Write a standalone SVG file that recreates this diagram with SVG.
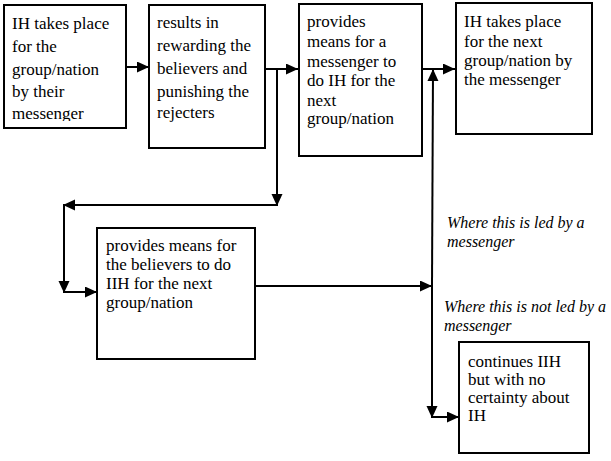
<svg xmlns="http://www.w3.org/2000/svg" width="611" height="461" viewBox="0 0 611 461">
<style>
  .box { fill: #fff; stroke: #000; stroke-width: 2; }
  .t { font-family: 'Liberation Serif', 'Times New Roman', serif; font-size: 17px; fill: #000; }
  .lbl { font-family: 'Liberation Serif', 'Times New Roman', serif; font-size: 16px; font-style: italic; fill: #000; }
  .c { fill: none; stroke: #000; stroke-width: 2; marker-end: url(#arr); }
</style>
<defs>
  <marker id="arr" markerUnits="userSpaceOnUse" markerWidth="13" markerHeight="12" refX="12" refY="5.5" orient="auto">
    <path d="M0,0 L12,5.5 L0,11 z" fill="#000"/>
  </marker>
  <clipPath id="clip1"><rect x="4" y="5" width="122" height="116"/></clipPath>
</defs>
<rect width="611" height="461" fill="#fff"/>

<g id="n1">
  <rect class="box" x="4" y="5" width="122" height="123"/>
  <g clip-path="url(#clip1)">
    <text class="t" x="12" y="29">IH takes place</text>
    <text class="t" x="12" y="52">for the</text>
    <text class="t" x="12" y="75">group/nation</text>
    <text class="t" x="12" y="97">by their</text>
    <text class="t" x="12" y="119">messenger</text>
  </g>
</g>
<g id="n2">
  <rect class="box" x="149" y="5" width="116" height="143"/>
  <text class="t" x="157" y="28">results in</text>
  <text class="t" x="157" y="51">rewarding the</text>
  <text class="t" x="157" y="74">believers and</text>
  <text class="t" x="157" y="97">punishing the</text>
  <text class="t" x="157" y="118">rejecters</text>
</g>
<g id="n3">
  <rect class="box" x="299" y="4" width="123" height="152"/>
  <text class="t" x="307" y="27">provides</text>
  <text class="t" x="307" y="47">means for a</text>
  <text class="t" x="307" y="67">messenger to</text>
  <text class="t" x="307" y="86">do IH for the</text>
  <text class="t" x="307" y="106">next</text>
  <text class="t" x="307" y="124">group/nation</text>
</g>
<g id="n4">
  <rect class="box" x="456" y="3" width="136" height="131"/>
  <text class="t" x="464" y="27">IH takes place</text>
  <text class="t" x="464" y="47">for the next</text>
  <text class="t" x="464" y="66">group/nation by</text>
  <text class="t" x="464" y="85">the messenger</text>
</g>
<g id="n5">
  <rect class="box" x="97" y="228" width="158" height="131"/>
  <text class="t" x="106" y="251">provides means for</text>
  <text class="t" x="106" y="270">the believers to do</text>
  <text class="t" x="106" y="289">IIH for the next</text>
  <text class="t" x="106" y="308">group/nation</text>
</g>
<g id="n6">
  <rect class="box" x="459" y="342" width="130" height="111"/>
  <text class="t" x="468" y="367">continues IIH</text>
  <text class="t" x="468" y="385">but with no</text>
  <text class="t" x="468" y="403">certainty about</text>
  <text class="t" x="468" y="421">IH</text>
</g>

<g id="connectors">
  <line class="c" x1="126" y1="67" x2="149" y2="67"/>
  <line class="c" x1="265" y1="69" x2="298" y2="69"/>
  <line class="c" x1="277" y1="69" x2="277" y2="206"/>
  <line class="c" x1="277" y1="205" x2="63" y2="205"/>
  <line class="c" x1="64" y1="205" x2="64" y2="293"/>
  <line class="c" x1="64" y1="292" x2="97" y2="292"/>
  <line class="c" x1="422" y1="69" x2="455" y2="69"/>
  <line class="c" x1="255" y1="286" x2="432" y2="286"/>
  <line class="c" x1="432" y1="286" x2="433" y2="69"/>
  <line class="c" x1="432" y1="286" x2="432" y2="418"/>
  <line class="c" x1="432" y1="417" x2="459" y2="417"/>
</g>

<g id="labels">
  <text class="lbl" x="447" y="228">Where this is led by a</text>
  <text class="lbl" x="447" y="247">messenger</text>
  <text class="lbl" x="444" y="312">Where this is not led by a</text>
  <text class="lbl" x="444" y="331">messenger</text>
</g>
</svg>
